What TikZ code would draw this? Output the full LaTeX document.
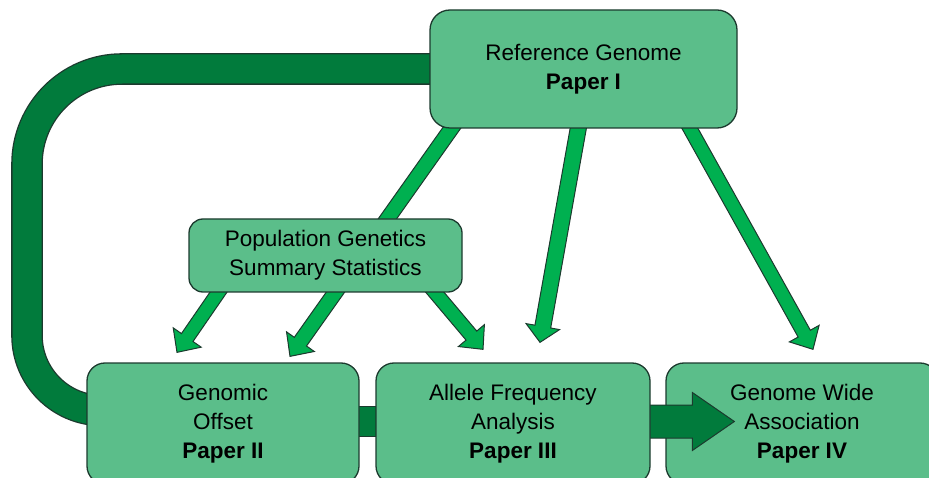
\documentclass[tikz,border=0pt]{standalone}
\usepackage{fontspec}
\setmainfont{Liberation Sans}
\usetikzlibrary{calc}
\definecolor{boxfill}{HTML}{5BBE8A}
\definecolor{edge}{HTML}{1C3A2E}
\definecolor{lightarr}{HTML}{00B050}
\definecolor{darkarr}{HTML}{017B3C}
\pgfdeclarelayer{bg}\pgfdeclarelayer{fg}\pgfdeclarelayer{top}
\pgfsetlayers{bg,main,fg,top}
% #1 style, #2 start, #3 tip, #4 shaft half width, #5 head half width, #6 head length
\newcommand\blockarrow[6]{%
  \coordinate (tmpN) at ($(#3)!#6!(#2)$);
  \draw[#1] ($(#2)!#4!-90:(#3)$) -- ($(tmpN)!#4!-90:(#3)$) -- ($(tmpN)!#5!-90:(#3)$)
    -- (#3) -- ($(tmpN)!#5!90:(#3)$) -- ($(tmpN)!#4!90:(#3)$) -- ($(#2)!#4!90:(#3)$) -- cycle;}
\tikzset{
  box/.style={draw=edge, line width=1.3pt, fill=boxfill, rounded corners=18pt, align=center,
    font=\fontsize{22.5}{29}\selectfont, inner sep=0pt},
  bottombox/.style={box, minimum width=272pt, minimum height=121pt},
  band/.style={draw=edge, line width=1.3pt, double=darkarr, double distance=29pt},
  larrow/.style={draw=edge, line width=1pt, fill=lightarr, line join=miter},
  darrow/.style={draw=edge, line width=1pt, fill=darkarr, line join=miter},
}
\begin{document}
\begin{tikzpicture}[x=1pt,y=-1pt]
\useasboundingbox (0,0) rectangle (929,478);
% boxes
\node[box, minimum width=307pt, minimum height=118pt, rounded corners=20pt] (ref) at (583.5,69)
  {Reference Genome\\\textbf{Paper I}};
\node[box, minimum width=273pt, minimum height=73pt, rounded corners=14pt] (pg) at (325.5,255.5)
  {Population Genetics\\Summary Statistics};
\node[bottombox] (go) at (223,423.5) {Genomic\\Offset\\\textbf{Paper II}};
\node[bottombox] (gwa) at (802,423.5) {Genome Wide\\Association\\\textbf{Paper IV}};
\begin{pgfonlayer}{top}
\node[bottombox, minimum width=274pt] (afa) at (513,423.5) {Allele Frequency\\Analysis\\\textbf{Paper III}};
\end{pgfonlayer}
% arrow end points
\coordinate (aS) at ($(ref.south west)+(29,-10)$);
\coordinate (aE) at ($(go.north)+(67,-6)$);
\coordinate (bS) at ($(pg.south west)+(45,-22)$);
\coordinate (bE) at ($(go.north)+(-46,-10)$);
\coordinate (cS) at ($(pg.south east)+(-46,-22)$);
\coordinate (cE) at ($(afa.north)+(-30,-13)$);
\coordinate (dS) at ($(ref.south)+(-3.5,-10)$);
\coordinate (dE) at ($(afa.north)+(27,-20)$);
\coordinate (eS) at ($(ref.south)+(101,-10)$);
\coordinate (eE) at ($(gwa.north)+(11,-13)$);
\coordinate (fS) at ($(afa.east)+(-10,-2)$);
\coordinate (fE) at ($(gwa.west)+(69,-2)$);
\coordinate (lS) at ($(ref.west)+(12,0)$);
\coordinate (lE) at ($(go.west)+(14,-13)$);
\begin{pgfonlayer}{bg}
\draw[band] (lS) [rounded corners=95pt] -- (27,69) [rounded corners=75pt] -- (27,410.5) -- (lE);
\draw[band] ($(go.east)+(-5,-2)$) -- ($(afa.west)+(5,-2)$);
\blockarrow{larrow}{aS}{aE}{7.5pt}{17pt}{18pt}
\blockarrow{larrow}{bS}{bE}{7pt}{17pt}{18pt}
\blockarrow{larrow}{cS}{cE}{7pt}{17pt}{18pt}
\blockarrow{larrow}{dS}{dE}{8pt}{17pt}{16pt}
\blockarrow{larrow}{eS}{eE}{7pt}{17pt}{18pt}
\end{pgfonlayer}
\begin{pgfonlayer}{fg}
\blockarrow{darrow}{fS}{fE}{16.5pt}{29pt}{42pt}
\end{pgfonlayer}
\end{tikzpicture}
\end{document}
